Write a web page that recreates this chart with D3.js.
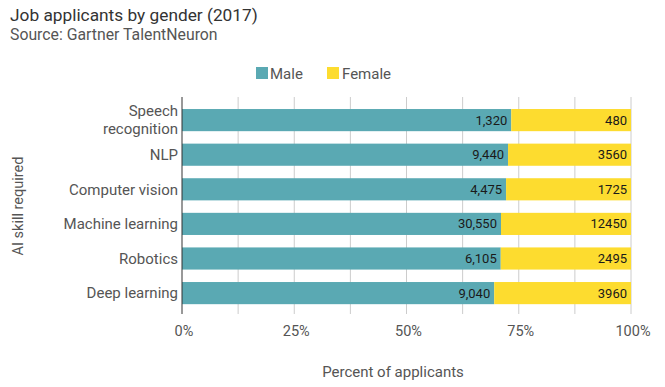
<!DOCTYPE html>
<html>
<head>
<meta charset="utf-8">
<script src="https://cdn.jsdelivr.net/npm/d3@7"></script>
<style>
  body { margin: 0; background: #fff; }
  text { font-family: Roboto, "Noto Sans", sans-serif; }
</style>
</head>
<body>
<script>
// Job applicants by gender, stacked to 100%

var skills = ["Speech recognition", "NLP", "Computer vision", "Machine learning", "Robotics", "Deep learning"];
var male = [1320, 9440, 4475, 30550, 6105, 9040];
var female = [480, 3560, 1725, 12450, 2495, 3960];
var maleLabels = ["1,320", "9,440", "4,475", "30,550", "6,105", "9,040"];
var femaleLabels = ["480", "3560", "1725", "12450", "2495", "3960"];
var xTicks = [0, 0.25, 0.5, 0.75, 1];
var gridTicks = [0, 0.125, 0.25, 0.375, 0.5, 0.625, 0.75, 0.875, 1];

var w = 665;
var h = 387;
var maleColor = "#5aa9b3";
var femaleColor = "#fddc2f";

var svg = d3.select("body").append("svg")
    .attr("width", w)
    .attr("height", h);

var x = d3.scaleLinear()
    .domain([0, 1])
    .range([182, 631]);

var y = d3.scaleBand()
    .domain(skills)
    .range([102.8, 310.4])
    .paddingInner(0.36)
    .paddingOuter(0.18);

// Titles
svg.append("text")
    .attr("x", 10).attr("y", 21)
    .attr("font-size", 17.3).attr("fill", "#333")
    .text("Job applicants by gender (2017)");

svg.append("text")
    .attr("x", 10).attr("y", 40)
    .attr("font-size", 15.8).attr("fill", "#555")
    .text("Source: Gartner TalentNeuron");

// Legend
var legend = svg.append("g");
legend.append("rect").attr("x", 256).attr("y", 67).attr("width", 12).attr("height", 12).attr("fill", maleColor);
legend.append("text").attr("x", 270).attr("y", 79).attr("font-size", 15).attr("fill", "#555").text("Male");
legend.append("rect").attr("x", 327).attr("y", 67).attr("width", 12).attr("height", 12).attr("fill", femaleColor);
legend.append("text").attr("x", 342).attr("y", 79).attr("font-size", 15).attr("fill", "#555").text("Female");

// Grid lines
svg.append("g")
    .selectAll("line")
    .data(gridTicks.slice(1))
    .enter()
    .append("line")
    .attr("x1", function(d) { return x(d); })
    .attr("x2", function(d) { return x(d); })
    .attr("y1", 97)
    .attr("y2", 314)
    .attr("stroke", "#ccc")
    .attr("stroke-width", 1);

// Bars
var rows = skills.map(function(s, i) {
    var total = male[i] + female[i];
    return { skill: s, m: male[i] / total, ml: maleLabels[i], fl: femaleLabels[i] };
});

var bars = svg.append("g");

bars.selectAll("rect.male")
    .data(rows)
    .enter()
    .append("rect")
    .attr("class", "male")
    .attr("x", x(0))
    .attr("y", function(d) { return y(d.skill); })
    .attr("width", function(d) { return x(d.m) - x(0); })
    .attr("height", y.bandwidth())
    .attr("fill", maleColor);

bars.selectAll("rect.female")
    .data(rows)
    .enter()
    .append("rect")
    .attr("class", "female")
    .attr("x", function(d) { return x(d.m); })
    .attr("y", function(d) { return y(d.skill); })
    .attr("width", function(d) { return x(1) - x(d.m); })
    .attr("height", y.bandwidth())
    .attr("fill", femaleColor);

bars.selectAll("text.ml")
    .data(rows)
    .enter()
    .append("text")
    .attr("x", function(d) { return x(d.m) - 4; })
    .attr("y", function(d) { return y(d.skill) + y.bandwidth() / 2; })
    .attr("dy", "0.35em")
    .attr("text-anchor", "end")
    .attr("font-size", 13)
    .attr("fill", "#1a1a1a")
    .text(function(d) { return d.ml; });

bars.selectAll("text.fl")
    .data(rows)
    .enter()
    .append("text")
    .attr("x", x(1) - 4)
    .attr("y", function(d) { return y(d.skill) + y.bandwidth() / 2; })
    .attr("dy", "0.35em")
    .attr("text-anchor", "end")
    .attr("font-size", 13)
    .attr("fill", "#1a1a1a")
    .text(function(d) { return d.fl; });

// Zero line
svg.append("line")
    .attr("x1", x(0)).attr("x2", x(0))
    .attr("y1", 97).attr("y2", 314)
    .attr("stroke", "#333").attr("stroke-width", 1);

// X axis labels
svg.append("g")
    .selectAll("text")
    .data(xTicks)
    .enter()
    .append("text")
    .attr("x", function(d) { return x(d) + 2; })
    .attr("y", 336)
    .attr("text-anchor", "middle")
    .attr("font-size", 14.5)
    .attr("fill", "#555")
    .text(d3.format(".0%"));

// Category labels
var catLabels = svg.append("g")
    .selectAll("text")
    .data(skills)
    .enter()
    .append("text")
    .attr("x", 178)
    .attr("y", function(d) { return y(d) + y.bandwidth() / 2; })
    .attr("text-anchor", "end")
    .attr("font-size", 15)
    .attr("fill", "#555");

catLabels.each(function(d) {
    var t = d3.select(this);
    if (d === "Speech recognition") {
        t.append("tspan").attr("x", 178).attr("dy", "-0.25em").text("Speech");
        t.append("tspan").attr("x", 178).attr("dy", "1.15em").text("recognition");
    } else {
        t.attr("dy", "0.35em").text(d);
    }
});

// Axis titles
svg.append("text")
    .attr("x", 393).attr("y", 377)
    .attr("text-anchor", "middle")
    .attr("font-size", 15).attr("fill", "#555")
    .text("Percent of applicants");

svg.append("text")
    .attr("transform", "translate(23,206) rotate(-90)")
    .attr("text-anchor", "middle")
    .attr("font-size", 14.5).attr("fill", "#555")
    .text("AI skill required");
</script>
</body>
</html>
